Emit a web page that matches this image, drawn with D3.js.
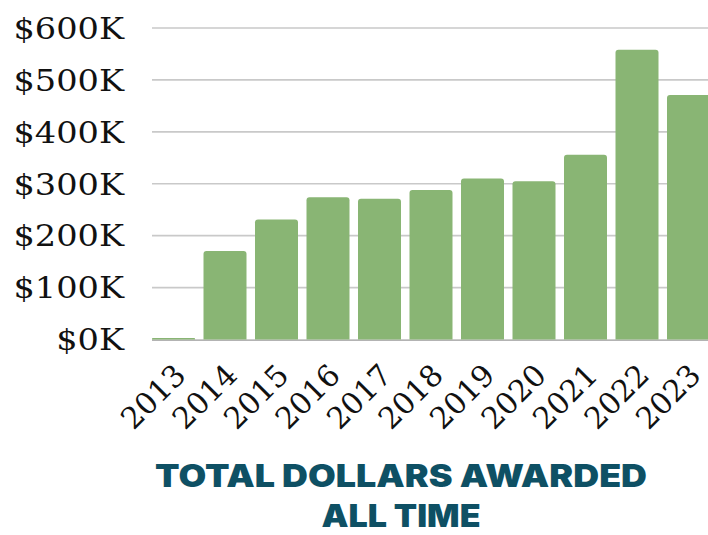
<!DOCTYPE html>
<html><head><meta charset="utf-8">
<script src="https://cdn.jsdelivr.net/npm/d3@7"></script>
<style>html,body{margin:0;padding:0;background:#fff;}svg{display:block;}</style>
</head><body>
<svg id="c" width="708" height="535"></svg>
<script>
const years = ["2013","2014","2015","2016","2017","2018","2019","2020","2021","2022","2023"];
const awarded = [3000,170500,231000,274000,271000,288000,310000,305000,356000,558000,471000];
const yTicks = [0,100000,200000,300000,400000,500000,600000];
const titleLines = ["TOTAL DOLLARS AWARDED","ALL TIME"];

const svg = d3.select("#c");
const x = d3.scaleBand().domain(years).range([152,710]).paddingInner(0.165).paddingOuter(0);
const y = d3.scaleLinear().domain([0,600000]).range([339.5,28]);

// gridlines
svg.append("g").selectAll("line").data(yTicks.filter(d=>d>0)).join("line")
  .attr("x1",152).attr("x2",708).attr("y1",d=>y(d)).attr("y2",d=>y(d))
  .attr("stroke","#c9c9c9").attr("stroke-width",1.6);
// baseline
svg.append("line").attr("x1",152).attr("x2",708).attr("y1",y(0)+0.6).attr("y2",y(0)+0.6)
  .attr("stroke","#9a9a9a").attr("stroke-width",1.3);

// y labels
svg.append("g").selectAll("text").data(yTicks).join("text")
  .attr("transform",d=>`translate(124,${y(d)}) scale(1.12,1)`)
  .attr("dy","0.36em")
  .attr("text-anchor","end")
  .style("font-family","'DejaVu Serif', serif").style("font-size","30px")
  .attr("fill","#111")
  .text(d=>"$"+(d/1000)+"K");

// bars
function barPath(x0,w,yt,yb,r){
  const h = yb-yt; r = Math.min(r,h/2,w/2);
  return `M${x0},${yb}V${yt+r}Q${x0},${yt} ${x0+r},${yt}H${x0+w-r}Q${x0+w},${yt} ${x0+w},${yt+r}V${yb}Z`;
}
svg.append("g").selectAll("path").data(years).join("path")
  .attr("d",(d,i)=>barPath(x(d),x.bandwidth(),y(awarded[i]),y(0),3))
  .attr("fill","#89b574");

// x labels
svg.append("g").selectAll("text").data(years).join("text")
  .attr("transform",d=>`translate(${x(d)+x.bandwidth()/2+14},377) rotate(-45)`)
  .attr("text-anchor","end")
  .style("font-family","'DejaVu Serif', serif").style("font-size","30px")
  .attr("fill","#111")
  .text(d=>d);

// title
const tw = [492,159];
svg.append("g").selectAll("text").data(titleLines).join("text")
  .attr("x",401).attr("y",(d,i)=>i===0?487:527)
  .attr("text-anchor","middle")
  .attr("textLength",(d,i)=>tw[i]).attr("lengthAdjust","spacingAndGlyphs")
  .style("font-family","Inter, 'Open Sans', sans-serif").style("font-size","31px").style("font-weight","900")
  .attr("fill","#0e5064")
  .text(d=>d);
</script>
</body></html>
